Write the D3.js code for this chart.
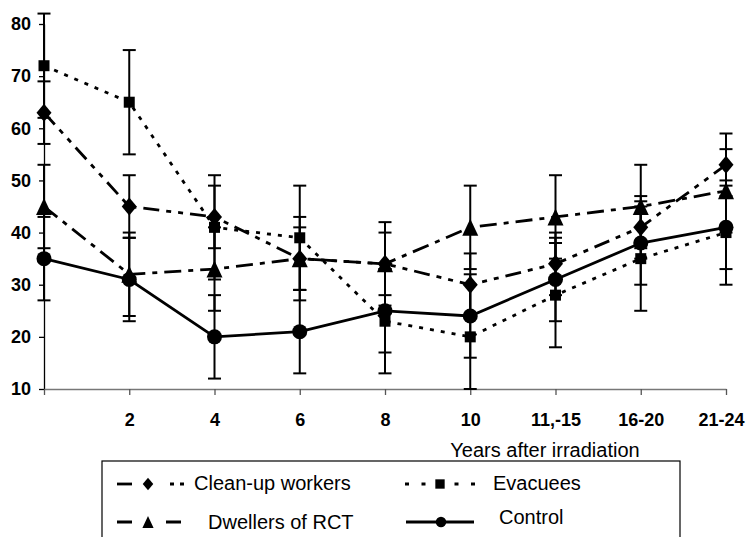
<!DOCTYPE html>
<html><head><meta charset="utf-8">
<script src="https://cdn.jsdelivr.net/npm/d3@7"></script>
<style>
body{margin:0;background:#fff}
text{font-family:"Liberation Sans",Arial,sans-serif}
</style>
</head><body>
<svg id="c" width="748" height="537"></svg>
<script>
// ---- data ----
const categories = ["", "2", "4", "6", "8", "10", "11,-15", "16-20", "21-24"];
const yTicks = [10, 20, 30, 40, 50, 60, 70, 80];
const seriesNames = ["Clean-up workers", "Evacuees", "Dwellers of RCT", "Control"];
const cleanupValues = [63, 45, 43, 35, 34, 30, 34, 41, 53];
const cleanupErr    = [6, 6, 6, 6, 6, 6, 6, 6, 6];
const evacueesValues = [72, 65, 41, 39, 23, 20, 28, 35, 40];
const evacueesErr    = [10, 10, 10, 10, 10, 10, 10, 10, 10];
const dwellersValues = [45, 32, 33, 35, 34, 41, 43, 45, 48];
const dwellersErr    = [8, 8, 8, 8, 8, 8, 8, 8, 8];
const controlValues  = [35, 31, 20, 21, 25, 24, 31, 38, 41];
const controlErr     = [8, 8, 8, 8, 8, 8, 8, 8, 8];
const xTitle = "Years after irradiation";

// ---- styles ----
const markers = {
  diamond: (s) => `M0,${-9*s}L${7.5*s},0L0,${9*s}L${-7.5*s},0Z`,
  square:  (s) => `M${-5.5*s},${-5.5*s}h${11*s}v${11*s}h${-11*s}Z`,
  triangle:(s) => `M0,${-8.5*s}L${8*s},${8.5*s}L${-8*s},${8.5*s}Z`,
  circle:  (s) => `M${7.5*s},0A${7.5*s},${7.5*s} 0 1,1 ${-7.5*s},0A${7.5*s},${7.5*s} 0 1,1 ${7.5*s},0Z`
};
const series = [
  {name: seriesNames[0], values: cleanupValues, err: cleanupErr, marker: "diamond", dash: "16,7,5,7,5,7"},
  {name: seriesNames[1], values: evacueesValues, err: evacueesErr, marker: "square", dash: "4,7"},
  {name: seriesNames[2], values: dwellersValues, err: dwellersErr, marker: "triangle", dash: "17,7,5,7"},
  {name: seriesNames[3], values: controlValues, err: controlErr, marker: "circle", dash: null}
];

const svg = d3.select("#c");
const x = d3.scalePoint().domain(categories).range([44, 726]);
const y = d3.scaleLinear().domain([10, 80]).range([389, 24]);

// y axis
const ya = svg.append("g").attr("transform", "translate(44,0)")
  .call(d3.axisLeft(y).tickValues(yTicks).tickSize(5).tickPadding(8).tickSizeOuter(0));
ya.select(".domain").attr("stroke", "#000").attr("stroke-width", 1.3);
ya.selectAll(".tick line").attr("stroke", "#000").attr("stroke-width", 1.3);
ya.selectAll("text").attr("font-family", '"Liberation Sans",Arial,sans-serif')
  .attr("font-size", 18).attr("font-weight", "bold").attr("fill", "#000");

// x axis
const xa = svg.append("g").attr("transform", "translate(0,389)")
  .call(d3.axisBottom(x).tickSize(6).tickPadding(18).tickSizeOuter(0));
xa.select(".domain").attr("stroke", "#777").attr("stroke-width", 1.3);
xa.selectAll(".tick line").attr("stroke", "#555").attr("stroke-width", 1.3);
xa.selectAll("text").attr("font-family", '"Liberation Sans",Arial,sans-serif')
  .attr("font-size", 18).attr("font-weight", "bold").attr("fill", "#000")
  .attr("dx", (d, i) => i === categories.length - 1 ? -5 : 0);

svg.append("text").attr("x", 545).attr("y", 457).attr("text-anchor", "middle")
  .attr("font-size", 20).text(xTitle);

// series
const line = d3.line().x((d, i) => x(categories[i])).y(d => y(d));
series.forEach(s => {
  const g = svg.append("g");
  // error bars
  const eb = g.selectAll(".eb").data(s.values).enter().append("g");
  eb.append("line")
    .attr("x1", (d, i) => x(categories[i])).attr("x2", (d, i) => x(categories[i]))
    .attr("y1", (d, i) => y(d + s.err[i])).attr("y2", (d, i) => y(d - s.err[i]))
    .attr("stroke", "#000").attr("stroke-width", 2);
  [1, -1].forEach(sign => {
    eb.append("line")
      .attr("x1", (d, i) => x(categories[i]) - 6.5).attr("x2", (d, i) => x(categories[i]) + 6.5)
      .attr("y1", (d, i) => y(d + sign * s.err[i])).attr("y2", (d, i) => y(d + sign * s.err[i]))
      .attr("stroke", "#000").attr("stroke-width", 2);
  });
  g.append("path").attr("d", line(s.values)).attr("fill", "none")
    .attr("stroke", "#000").attr("stroke-width", 2.8)
    .attr("stroke-dasharray", s.dash);
  g.selectAll(".m").data(s.values).enter().append("path")
    .attr("d", markers[s.marker](1))
    .attr("transform", (d, i) => `translate(${x(categories[i])},${y(d)})`)
    .attr("fill", "#000");
});

// legend
const lg = svg.append("g");
lg.append("rect").attr("x", 102).attr("y", 461).attr("width", 578).attr("height", 120)
  .attr("fill", "none").attr("stroke", "#000").attr("stroke-width", 1.2);
// clean-up
lg.append("line").attr("x1", 117).attr("x2", 132).attr("y1", 484).attr("y2", 484).attr("stroke", "#000").attr("stroke-width", 2.8);
lg.append("line").attr("x1", 170).attr("x2", 185).attr("y1", 484).attr("y2", 484).attr("stroke", "#000").attr("stroke-width", 2.8).attr("stroke-dasharray", "4,6");
lg.append("path").attr("d", markers.diamond(0.7)).attr("transform", "translate(148,484)");
lg.append("text").attr("x", 194).attr("y", 490).attr("font-size", 20).text(seriesNames[0]);
// evacuees
lg.append("line").attr("x1", 405).attr("x2", 475).attr("y1", 484).attr("y2", 484).attr("stroke", "#000").attr("stroke-width", 2.8).attr("stroke-dasharray", "4,12.5");
lg.append("path").attr("d", markers.square(0.85)).attr("transform", "translate(440,484)");
lg.append("text").attr("x", 493).attr("y", 490).attr("font-size", 20).text(seriesNames[1]);
// dwellers
lg.append("line").attr("x1", 117).attr("x2", 182).attr("y1", 522).attr("y2", 522).attr("stroke", "#000").attr("stroke-width", 2.8).attr("stroke-dasharray", "15,34");
lg.append("path").attr("d", markers.triangle(0.7)).attr("transform", "translate(148,522)");
lg.append("text").attr("x", 208).attr("y", 529).attr("font-size", 20).text(seriesNames[2]);
// control
lg.append("line").attr("x1", 406).attr("x2", 474).attr("y1", 522).attr("y2", 522).attr("stroke", "#000").attr("stroke-width", 2.8);
lg.append("path").attr("d", markers.circle(0.7)).attr("transform", "translate(441,522)");
lg.append("text").attr("x", 499).attr("y", 524).attr("font-size", 20).text(seriesNames[3]);
</script>
</body></html>
